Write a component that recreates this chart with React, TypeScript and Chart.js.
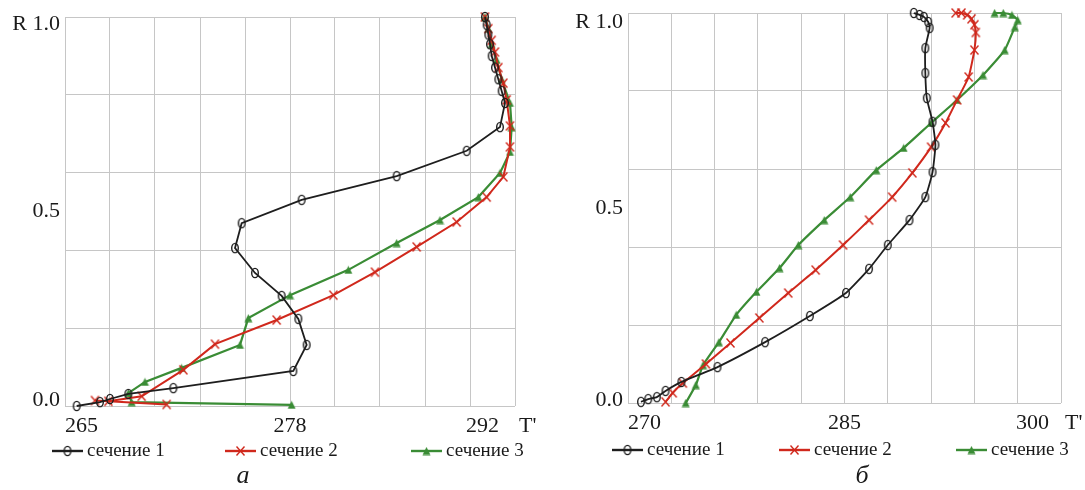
import React, { useEffect, useRef } from 'react';
import { Chart, registerables } from 'chart.js';

Chart.register(...registerables);

// ---------- data ----------
const seriesNames = ['сечение 1', 'сечение 2', 'сечение 3'];
const axisTitle = "T'";
const yTickValues = [0, 0.5, 1.0];
const yTickLabels = ['0.0', '0.5', 'R 1.0'];
const captions = ['а', 'б'];

// panel а
const aRange = [265, 292];
const aXTickLabels = ['265', '278', '292'];
const aT1 = [290.2, 290.3, 290.4, 290.5, 290.6, 290.8, 291.0, 291.2, 291.4, 291.1, 289.1, 284.9, 279.2, 275.6, 275.2, 276.4, 278.0, 279.0, 279.5, 278.7, 271.5, 268.8, 267.7, 267.1, 265.7];
const aR1 = [1.0, 0.98, 0.955, 0.93, 0.9, 0.87, 0.84, 0.81, 0.779, 0.717, 0.656, 0.591, 0.53, 0.47, 0.406, 0.342, 0.283, 0.224, 0.157, 0.09, 0.046, 0.031, 0.018, 0.01, 0.0];
const aT2 = [290.2, 290.4, 290.6, 290.8, 291.0, 291.3, 291.5, 291.7, 291.7, 291.3, 290.3, 288.5, 286.1, 283.6, 281.1, 277.7, 274.0, 272.1, 269.6, 267.6, 266.8, 271.1];
const aR2 = [1.0, 0.97, 0.94, 0.91, 0.87, 0.83, 0.787, 0.72, 0.666, 0.589, 0.537, 0.473, 0.409, 0.344, 0.285, 0.221, 0.159, 0.093, 0.025, 0.012, 0.014, 0.004];
const aT3 = [290.2, 290.4, 290.6, 290.9, 291.2, 291.7, 291.8, 291.7, 291.1, 289.8, 287.5, 284.9, 282.0, 278.5, 276.0, 275.5, 272.0, 269.8, 268.8, 269.0, 278.6];
const aR3 = [1.0, 0.97, 0.93, 0.89, 0.84, 0.779, 0.717, 0.653, 0.599, 0.537, 0.478, 0.419, 0.35, 0.285, 0.226, 0.157, 0.098, 0.062, 0.033, 0.01, 0.003];

// panel б
const bRange = [270, 300];
const bXTickLabels = ['270', '285', '300'];
const bT1 = [289.8, 290.2, 290.5, 290.8, 290.9, 290.6, 290.6, 290.7, 291.1, 291.3, 291.1, 290.6, 289.5, 288.0, 286.7, 285.1, 282.6, 279.5, 276.2, 273.7, 272.6, 272.0, 271.4, 270.9];
const bR1 = [1.0, 0.995, 0.99, 0.977, 0.962, 0.91, 0.846, 0.782, 0.721, 0.662, 0.592, 0.528, 0.469, 0.405, 0.344, 0.282, 0.223, 0.156, 0.092, 0.054, 0.031, 0.015, 0.01, 0.003];
const bT2 = [292.7, 293.1, 293.5, 293.8, 294.0, 294.1, 294.0, 293.6, 292.8, 292.0, 291.0, 289.7, 288.3, 286.7, 284.9, 283.0, 281.1, 279.1, 277.1, 275.4, 273.8, 273.1, 272.6];
const bR2 = [1.0, 1.0, 0.995, 0.985, 0.97, 0.95, 0.905, 0.836, 0.777, 0.718, 0.656, 0.59, 0.528, 0.469, 0.405, 0.341, 0.282, 0.218, 0.154, 0.1, 0.051, 0.026, 0.003];
const bT3 = [295.4, 296.0, 296.6, 297.0, 296.8, 296.1, 294.6, 292.8, 291.0, 289.1, 287.2, 285.4, 283.6, 281.8, 280.5, 278.9, 277.5, 276.3, 275.2, 274.7, 274.0];
const bR3 = [1.0, 1.0, 0.995, 0.982, 0.964, 0.905, 0.841, 0.777, 0.718, 0.654, 0.597, 0.528, 0.469, 0.405, 0.346, 0.285, 0.226, 0.156, 0.097, 0.046, 0.0];

// ---------- styles ----------
const colors = ['#1e1e1e', '#d0281c', '#3a8c35'];
const lineWidths = [1.8, 2, 2.2];
const FONT = '"Liberation Serif", "Times New Roman", serif';

function makeMarker(kind: number): HTMLCanvasElement {
  const c = document.createElement('canvas');
  const ctx = c.getContext('2d')!;
  if (kind === 0) {
    c.width = 10; c.height = 12;
    ctx.strokeStyle = colors[0]; ctx.lineWidth = 1.4;
    ctx.beginPath(); ctx.ellipse(5, 6, 3.3, 4.6, 0, 0, Math.PI * 2); ctx.stroke();
  } else if (kind === 1) {
    c.width = 11; c.height = 12;
    ctx.strokeStyle = colors[1]; ctx.lineWidth = 1.4;
    ctx.beginPath();
    ctx.moveTo(1.5, 1.5); ctx.lineTo(9.5, 10.5);
    ctx.moveTo(9.5, 1.5); ctx.lineTo(1.5, 10.5);
    ctx.stroke();
  } else {
    c.width = 9; c.height = 9;
    ctx.fillStyle = colors[2];
    ctx.beginPath(); ctx.moveTo(4.5, 0.5); ctx.lineTo(8.5, 8.5); ctx.lineTo(0.5, 8.5); ctx.closePath(); ctx.fill();
  }
  return c;
}

type PanelCfg = {
  range: number[];
  xLabels: string[];
  series: { t: number[]; r: number[] }[];
  width: number;
  padding: { left: number; top: number; right: number; bottom: number };
  legendX: number[];
  legendY: number;
  yNudge: number[];
  rightLabelInset: number;
  tension: number;
};

function PanelChart({ cfg }: { cfg: PanelCfg }) {
  const ref = useRef<HTMLCanvasElement>(null);
  useEffect(() => {
    const markers = [makeMarker(0), makeMarker(1), makeMarker(2)];
    const [xMin, xMax] = cfg.range;
    const xGrid: number[] = [];
    for (let i = 0; i <= 10; i++) xGrid.push(xMin + ((xMax - xMin) * i) / 10);
    const yGrid = [0, 0.2, 0.4, 0.6, 0.8, 1.0];

    const decor = {
      id: 'decor',
      afterDraw(chart: any) {
        const { ctx, chartArea: a, scales } = chart;
        ctx.save();
        ctx.fillStyle = '#1a1a1a';
        ctx.font = `22px ${FONT}`;
        // y labels
        ctx.textAlign = 'right';
        ctx.textBaseline = 'middle';
        yTickValues.forEach((v, i) => {
          ctx.fillText(yTickLabels[i], a.left - 5, scales.y.getPixelForValue(v) + cfg.yNudge[i]);
        });
        // x labels
        const ly = a.bottom + 20;
        ctx.textAlign = 'left';
        ctx.fillText(cfg.xLabels[0], a.left, ly);
        ctx.textAlign = 'center';
        ctx.fillText(cfg.xLabels[1], scales.x.getPixelForValue((xMin + xMax) / 2), ly);
        ctx.textAlign = 'right';
        ctx.fillText(cfg.xLabels[2], a.right - cfg.rightLabelInset, ly);
        ctx.textAlign = 'left';
        ctx.fillText(axisTitle, a.right + 4, ly);
        // legend
        ctx.font = `19px ${FONT}`;
        seriesNames.forEach((name, i) => {
          const x0 = cfg.legendX[i];
          const y0 = cfg.legendY;
          ctx.strokeStyle = colors[i];
          ctx.lineWidth = 2.4;
          ctx.beginPath(); ctx.moveTo(x0, y0); ctx.lineTo(x0 + 31, y0); ctx.stroke();
          const m = markers[i];
          ctx.drawImage(m, x0 + 15.5 - m.width / 2, y0 - m.height / 2);
          ctx.fillStyle = '#1a1a1a';
          ctx.textAlign = 'left';
          ctx.fillText(name, x0 + 35, y0);
        });
        ctx.restore();
      },
    };

    const chart = new Chart(ref.current!, {
      type: 'scatter',
      data: {
        datasets: cfg.series.map((s, i) => ({
          label: seriesNames[i],
          data: s.t.map((t, k) => ({ x: t, y: s.r[k] })),
          showLine: true,
          borderColor: colors[i],
          backgroundColor: colors[i],
          borderWidth: lineWidths[i],
          pointStyle: markers[i] as any,
          pointRadius: 4,
          tension: cfg.tension,
          clip: false as any,
        })),
      },
      options: {
        animation: false,
        responsive: false,
        devicePixelRatio: 1,
        layout: { padding: cfg.padding },
        plugins: { legend: { display: false }, tooltip: { enabled: false } },
        scales: {
          x: {
            type: 'linear',
            min: xMin,
            max: xMax,
            afterBuildTicks: (s: any) => { s.ticks = xGrid.map((v) => ({ value: v })); },
            afterFit: (s: any) => { s.height = 0; },
            ticks: { display: false },
            grid: { color: '#c6c6c6', lineWidth: 1, drawTicks: false },
            border: { display: false },
          },
          y: {
            type: 'linear',
            min: 0,
            max: 1,
            afterBuildTicks: (s: any) => { s.ticks = yGrid.map((v) => ({ value: v })); },
            afterFit: (s: any) => { s.width = 0; },
            ticks: { display: false },
            grid: { color: '#c6c6c6', lineWidth: 1, drawTicks: false },
            border: { display: false },
          },
        },
      },
      plugins: [decor],
    });
    return () => chart.destroy();
  }, [cfg]);
  return <canvas ref={ref} width={cfg.width} height={490} style={{ display: 'block' }} />;
}

const panelA: PanelCfg = {
  range: aRange,
  xLabels: aXTickLabels,
  series: [{ t: aT1, r: aR1 }, { t: aT2, r: aR2 }, { t: aT3, r: aR3 }],
  width: 545,
  padding: { left: 65, top: 17, right: 30, bottom: 84 },
  legendX: [52, 225, 411],
  legendY: 451,
  yNudge: [-6, 0, 7],
  rightLabelInset: 16,
  tension: 0,
};

const panelB: PanelCfg = {
  range: bRange,
  xLabels: bXTickLabels,
  series: [{ t: bT1, r: bR1 }, { t: bT2, r: bR2 }, { t: bT3, r: bR3 }],
  width: 540,
  padding: { left: 83, top: 13, right: 24, bottom: 87 },
  legendX: [67, 234, 411],
  legendY: 450,
  yNudge: [-3, 0, 9],
  rightLabelInset: 12,
  tension: 0.15,
};

export default function App() {
  const capStyle = (x: number): React.CSSProperties => ({
    position: 'absolute',
    left: x,
    top: 475,
    transform: 'translate(-50%, -50%)',
    font: `italic 26px ${FONT}`,
    color: '#1a1a1a',
    lineHeight: 1,
  });
  return (
    <div style={{ position: 'absolute', left: 0, top: 0, width: 1085, height: 490, background: '#fff', overflow: 'hidden' }}>
      <div style={{ position: 'absolute', left: 0, top: 0 }}>
        <PanelChart cfg={panelA} />
      </div>
      <div style={{ position: 'absolute', left: 545, top: 0 }}>
        <PanelChart cfg={panelB} />
      </div>
      <div style={capStyle(243)}>{captions[0]}</div>
      <div style={capStyle(862)}>{captions[1]}</div>
    </div>
  );
}
